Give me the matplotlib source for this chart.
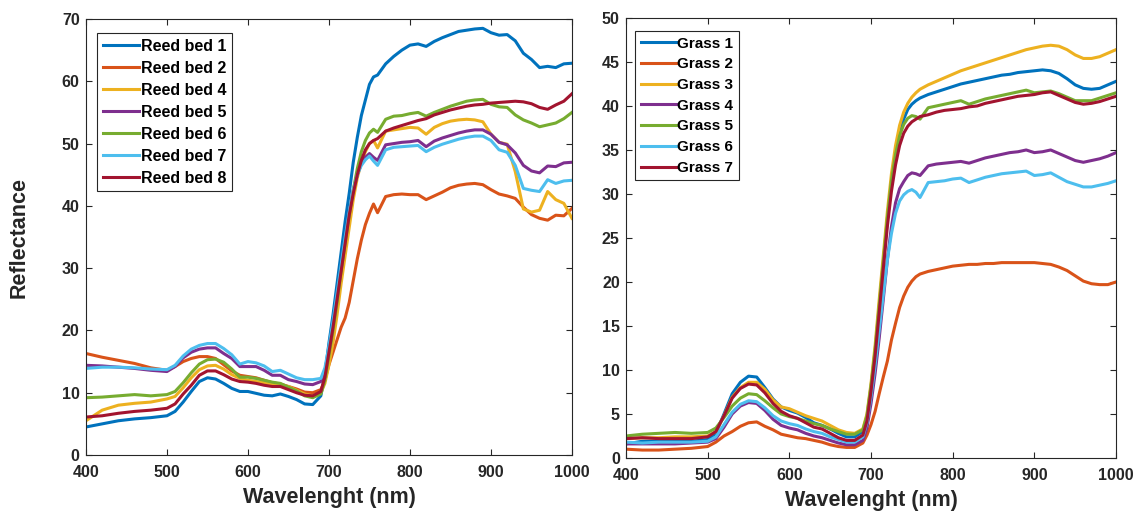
import matplotlib
matplotlib.use("Agg")
import matplotlib.pyplot as plt

plt.rcParams['font.family'] = ['Liberation Sans', 'DejaVu Sans']
plt.rcParams['font.weight'] = 'bold'

# wavelength grid (nm)
wl = [400, 420, 440, 460, 480, 500,
      510, 520, 530, 540, 550, 560, 570, 580, 590, 600, 610, 620, 630, 640, 650, 660, 670, 680,
      690, 695, 700, 705, 710, 715, 720, 725, 730, 735, 740, 745, 750, 755, 760,
      770, 780, 790, 800, 810, 820, 830, 840, 850, 860, 870, 880, 890, 900, 910, 920, 930, 940,
      950, 960, 970, 980, 990, 1000]

# ---- reed beds ----
reed1 = [4.5, 5.0, 5.5, 5.8, 6.0, 6.3,
         7.0, 8.5, 10.2, 11.8, 12.4, 12.2, 11.5, 10.7, 10.2, 10.2, 9.9, 9.6, 9.5, 9.8, 9.4, 8.9, 8.2, 8.1,
         9.5, 13, 18, 22.5, 27.5, 32.5, 37.5, 42, 47, 51, 54.5, 57, 59.5, 60.7, 61,
         62.8, 64, 65, 65.8, 66.0, 65.6, 66.4, 67, 67.5, 68, 68.2, 68.4, 68.5, 67.8, 67.4, 67.5, 66.5, 64.5,
         63.5, 62.2, 62.4, 62.2, 62.8, 62.9]
reed2 = [16.3, 15.7, 15.2, 14.7, 14.0, 13.6,
         14.2, 15.0, 15.5, 15.8, 15.8, 15.5, 14.5, 13.5, 12.8, 12.6, 12.4, 12.0, 11.6, 11.4, 11.0, 10.6, 10.1, 10.0,
         10.5, 12, 14.5, 16.5, 18.5, 20.5, 22, 24.5, 28, 31.5, 34.5, 37, 38.8, 40.3, 38.9,
         41.5, 41.8, 41.9, 41.8, 41.8, 41.0, 41.6, 42.2, 42.9, 43.3, 43.5, 43.6, 43.4, 42.6, 41.9, 41.6, 41.2, 39.8,
         38.6, 38.0, 37.7, 38.5, 38.4, 39.6]
reed4 = [5.5, 7.2, 8.0, 8.3, 8.5, 9.0,
         9.4, 10.8, 12.4, 13.7, 14.3, 14.4, 13.8, 12.9, 12.3, 12.0, 11.8, 11.6, 11.3, 11.2, 11.0, 10.4, 9.8, 9.5,
         10.0, 11.5, 14.5, 18, 22.5, 27.5, 32, 36.5, 41, 44.5, 47, 48.7, 50, 50.5, 49.3,
         52, 52.2, 52.4, 52.6, 52.5, 51.5, 52.6, 53.2, 53.6, 53.8, 53.9, 53.8, 53.5, 51.5, 50.2, 49.9, 45.5, 39.5,
         39.0, 39.3, 42.3, 41.0, 40.4, 38.0]
reed5 = [14.4, 14.3, 14.1, 13.9, 13.6, 13.4,
         14.2, 15.6, 16.5, 17.0, 17.2, 17.2, 16.3, 15.5, 14.2, 14.2, 14.2, 13.6, 12.8, 12.8, 12.1, 11.8, 11.4, 11.3,
         11.8, 13.5, 17, 21, 25.5, 30, 34.5, 39, 42.5, 45, 46.8, 47.8, 48.4, 47.8, 47.3,
         49.8, 50.0, 50.2, 50.3, 50.5, 49.5, 50.4, 50.9, 51.3, 51.7, 52.0, 52.2, 52.2, 51.5, 50.2, 49.8, 48.5, 46.5,
         45.6, 45.3, 46.4, 46.3, 46.9, 47.0]
reed6 = [9.2, 9.3, 9.5, 9.7, 9.5, 9.7,
         10.2, 11.6, 13.2, 14.6, 15.3, 15.4, 14.9, 13.8, 12.5, 12.5, 12.3, 12.0, 11.7, 11.5, 10.9, 10.3, 9.5, 9.2,
         9.8, 12, 16, 20, 24.5, 29.5, 34, 38.5, 42.5, 46, 48.7, 50.5, 51.7, 52.3, 51.8,
         53.9, 54.4, 54.5, 54.8, 55.0, 54.4, 55.0, 55.5, 56.0, 56.4, 56.8, 57.0, 57.1, 56.3, 55.9, 55.8, 54.6, 53.8,
         53.3, 52.7, 53.0, 53.3, 54.0, 55.0]
reed7 = [13.9, 14.1, 14.1, 14.0, 13.8, 13.7,
         14.4, 15.9, 17.0, 17.6, 17.9, 17.9, 17.1, 16.1, 14.6, 15.0, 14.8, 14.3, 13.4, 13.6, 13.0, 12.4, 12.1, 12.1,
         12.3, 14, 17.5, 21.5, 26, 30.5, 35, 39, 42.5, 45, 46.5, 47.4, 48, 47.2, 46.5,
         49.0, 49.4, 49.5, 49.6, 49.7, 48.7, 49.4, 49.9, 50.3, 50.7, 51.0, 51.2, 51.2, 50.5, 49.0, 48.6, 46.5, 42.8,
         42.5, 42.3, 44.2, 43.6, 44.0, 44.1]
reed8 = [6.1, 6.3, 6.7, 7.0, 7.2, 7.5,
         8.2, 9.8, 11.2, 12.8, 13.5, 13.5, 12.9, 12.2, 11.8, 11.7, 11.5, 11.2, 11.0, 11.0, 10.5, 10.0, 9.6, 9.5,
         10.2, 12.5, 16.5, 20.5, 25, 29.5, 34, 38.5, 42, 45, 47.3, 49, 50, 50.5, 50.8,
         52.0, 52.5, 52.9, 53.3, 53.7, 54.0, 54.6, 55.0, 55.4, 55.7, 56.0, 56.2, 56.3, 56.5, 56.6, 56.7, 56.8, 56.7,
         56.4, 55.8, 55.5, 56.2, 56.8, 58.0]

# ---- grass ----
grass1 = [1.6, 1.9, 1.9, 1.9, 1.9, 2.1,
          2.8, 5.0, 7.3, 8.6, 9.3, 9.2, 8.0, 6.7, 5.8, 5.4, 5.1, 4.6, 4.0, 3.7, 3.3, 2.8, 2.4, 2.4,
          3.0, 4.5, 8, 12, 17, 22, 27, 31.3, 34.5, 36.8, 38.5, 39.6, 40.2, 40.6, 40.9,
          41.3, 41.6, 41.9, 42.2, 42.5, 42.7, 42.9, 43.1, 43.3, 43.5, 43.6, 43.8, 43.9, 44.0, 44.1, 44.0, 43.7, 43.1,
          42.4, 42.0, 41.9, 42.0, 42.4, 42.8]
grass2 = [1.0, 0.9, 0.9, 1.0, 1.1, 1.3,
          1.8, 2.5, 3.0, 3.6, 4.0, 4.1, 3.6, 3.2, 2.7, 2.5, 2.3, 2.2, 2.0, 1.8, 1.5, 1.3, 1.2, 1.2,
          1.7, 2.6, 3.8, 5.3, 7.3, 9.2, 11.0, 13.4, 15.3, 17.1, 18.4, 19.4, 20.1, 20.6, 20.9,
          21.2, 21.4, 21.6, 21.8, 21.9, 22.0, 22.0, 22.1, 22.1, 22.2, 22.2, 22.2, 22.2, 22.2, 22.1, 22.0, 21.7, 21.3,
          20.7, 20.1, 19.8, 19.7, 19.7, 20.0]
grass3 = [2.2, 2.3, 2.3, 2.4, 2.4, 2.5,
          3.0, 4.8, 6.9, 8.0, 8.6, 8.6, 7.8, 6.6, 5.8, 5.6, 5.2, 4.8, 4.5, 4.2, 3.7, 3.2, 2.9, 2.8,
          3.3, 5, 8.5, 12.8, 18, 23, 28, 32.3, 35.5, 37.8, 39.3, 40.3, 41.0, 41.5, 41.9,
          42.4, 42.8, 43.2, 43.6, 44.0, 44.3, 44.6, 44.9, 45.2, 45.5, 45.8, 46.1, 46.4, 46.6, 46.8, 46.9, 46.8, 46.4,
          45.8, 45.4, 45.4, 45.6, 46.0, 46.4]
grass4 = [1.6, 1.6, 1.6, 1.6, 1.7, 1.8,
          2.2, 3.5, 5.0, 5.9, 6.3, 6.2, 5.4, 4.4, 3.7, 3.4, 3.2, 2.8, 2.5, 2.3, 2.0, 1.7, 1.5, 1.5,
          2.0, 3.4, 6.2, 9.6, 13.6, 18, 22.5, 26.3, 29, 30.6, 31.4, 32.1, 32.4, 32.3, 32.1,
          33.2, 33.4, 33.5, 33.6, 33.7, 33.5, 33.8, 34.1, 34.3, 34.5, 34.7, 34.8, 35.0, 34.7, 34.8, 35.0, 34.6, 34.2,
          33.8, 33.6, 33.8, 34.0, 34.3, 34.7]
grass5 = [2.5, 2.7, 2.8, 2.9, 2.8, 2.9,
          3.4, 4.6, 5.9, 6.8, 7.3, 7.2, 6.5, 5.7, 5.0, 4.7, 4.5, 4.2, 3.9, 3.7, 3.3, 3.0, 2.7, 2.7,
          3.2, 4.8, 8.2, 12.3, 17.3, 22.3, 27.3, 31.5, 34.5, 36.6, 37.9, 38.6, 38.9, 38.8, 38.5,
          39.8, 40.0, 40.2, 40.4, 40.6, 40.2, 40.5, 40.8, 41.0, 41.2, 41.4, 41.6, 41.8, 41.5, 41.6, 41.7, 41.4, 41.0,
          40.6, 40.6, 40.6, 40.9, 41.2, 41.5]
grass6 = [1.8, 1.7, 1.8, 1.8, 1.8, 1.9,
          2.4, 3.8, 5.2, 6.1, 6.5, 6.4, 5.7, 4.8, 4.2, 3.9, 3.7, 3.3, 3.0, 2.8, 2.4, 2.1, 1.8, 1.8,
          2.4, 4.0, 7.0, 10.5, 14.5, 18.5, 22.5, 25.5, 27.8, 29.2, 29.9, 30.3, 30.5, 30.2, 29.6,
          31.3, 31.4, 31.5, 31.7, 31.8, 31.3, 31.6, 31.9, 32.1, 32.3, 32.4, 32.5, 32.6, 32.1, 32.2, 32.4, 31.9, 31.4,
          31.1, 30.8, 30.8, 31.0, 31.2, 31.5]
grass7 = [2.2, 2.3, 2.2, 2.2, 2.2, 2.4,
          3.0, 4.8, 6.8, 7.9, 8.4, 8.3, 7.4, 6.2, 5.3, 4.8, 4.5, 4.0, 3.5, 3.3, 2.8, 2.3, 2.0, 2.0,
          2.6, 4.2, 7.6, 11.6, 16.5, 21.5, 26.3, 30.3, 33.3, 35.5, 36.9, 37.7, 38.2, 38.5, 38.8,
          39.0, 39.3, 39.5, 39.6, 39.7, 39.9, 40.0, 40.3, 40.5, 40.7, 40.9, 41.1, 41.2, 41.3, 41.5, 41.6, 41.2, 40.8,
          40.4, 40.2, 40.3, 40.5, 40.8, 41.1]

reed_series = [reed1, reed2, reed4, reed5, reed6, reed7, reed8]
reed_labels = ['Reed bed 1', 'Reed bed 2', 'Reed bed 4', 'Reed bed 5', 'Reed bed 6', 'Reed bed 7', 'Reed bed 8']
grass_series = [grass1, grass2, grass3, grass4, grass5, grass6, grass7]
grass_labels = ['Grass 1', 'Grass 2', 'Grass 3', 'Grass 4', 'Grass 5', 'Grass 6', 'Grass 7']

colors = ['#0072BD', '#D95319', '#EDB120', '#7E2F8E', '#77AC30', '#4DBEEE', '#A2142F']
axcol = '#262626'


def style_axis(ax, ymax, ystep):
    ax.set_xlim(400, 1000)
    ax.set_ylim(0, ymax)
    ax.set_xticks(range(400, 1001, 100))
    ax.set_yticks(range(0, ymax + 1, ystep))
    ax.tick_params(direction='in', top=True, right=True, length=4, width=0.8,
                   colors=axcol, labelsize=11.5)
    ax.tick_params(axis='x', pad=7.5)
    ax.tick_params(axis='y', pad=4.5)
    for lab in ax.get_xticklabels() + ax.get_yticklabels():
        lab.set_fontweight('bold')
    for sp in ax.spines.values():
        sp.set_color(axcol)
        sp.set_linewidth(0.8)
    ax.set_xlabel('Wavelenght (nm)', fontsize=15.5, fontweight='bold', color=axcol, labelpad=5)


fig = plt.figure(figsize=(11.43, 5.12), dpi=100)
ax1 = fig.add_axes([0.0752, 0.1113, 0.4252, 0.8516])
ax2 = fig.add_axes([0.5477, 0.1055, 0.4287, 0.8594])

for vals, lab, c in zip(reed_series, reed_labels, colors):
    ax1.plot(wl, vals, color=c, lw=2.2, label=lab)
for vals, lab, c in zip(grass_series, grass_labels, colors):
    ax2.plot(wl, vals, color=c, lw=2.2, label=lab)

style_axis(ax1, 70, 10)
style_axis(ax2, 50, 5)
ax1.set_ylabel('Reflectance', fontsize=15.5, fontweight='bold', color=axcol, labelpad=23)

for ax, anchor, fsize in [(ax1, (0.0226, 0.968), 11.5), (ax2, (0.019, 0.97), 11)]:
    leg = ax.legend(loc='upper left', bbox_to_anchor=anchor, borderaxespad=0,
                    fancybox=False, framealpha=1, edgecolor=axcol,
                    prop={'size': fsize, 'weight': 'bold'}, handlelength=2.3,
                    handletextpad=0.1, labelspacing=0.44, borderpad=0.35)
    leg.get_frame().set_linewidth(0.8)

fig.savefig('out.png', dpi=100)
